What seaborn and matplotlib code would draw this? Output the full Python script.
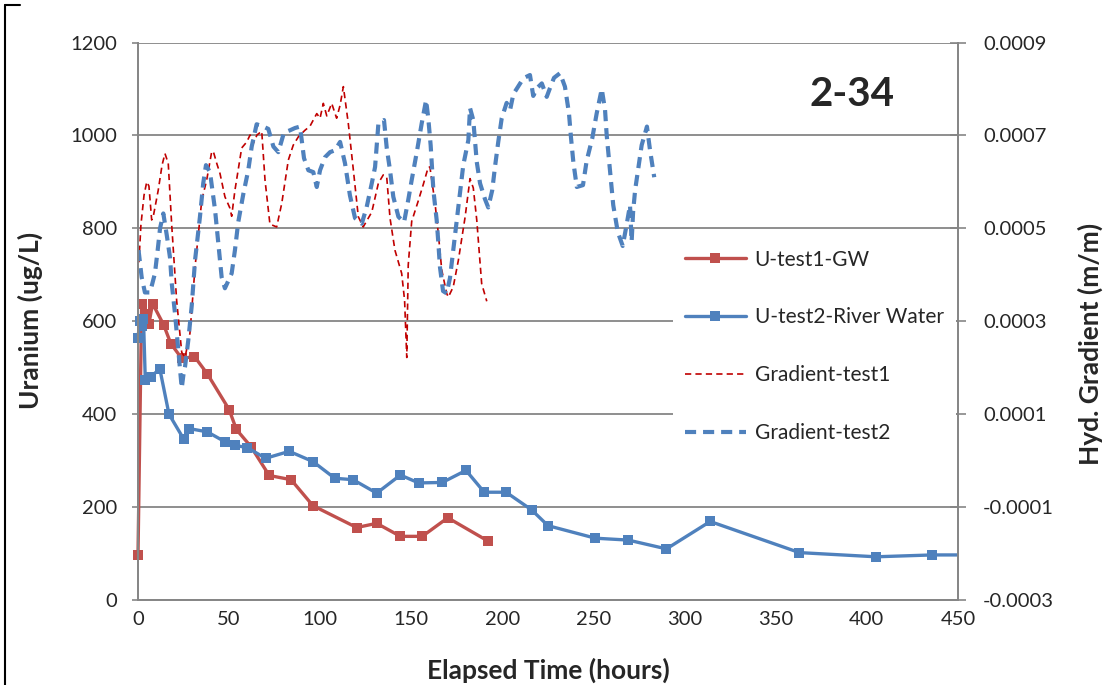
import numpy as np
import pandas as pd
import matplotlib
matplotlib.use("Agg")
import matplotlib.pyplot as plt
from matplotlib.lines import Line2D
from matplotlib.patches import Rectangle
from matplotlib.ticker import FormatStrFormatter, MultipleLocator
import seaborn as sns

# ── uranium concentration (ug/L) ──
u1_hours = [0, 2, 4, 6, 8, 14, 18, 24, 31, 38, 50, 54, 62, 72, 84, 96,
            120, 131, 144, 156, 170, 192]
u1_conc = [97, 638, 615, 595, 638, 593, 552, 520, 524, 487, 410, 367, 330,
           268, 259, 203, 156, 165, 137, 137, 177, 127]

u2_hours = [0, 1, 2, 3, 4, 7, 12, 17, 25, 28, 38, 48, 53, 60, 70, 83, 96,
            108, 118, 131, 144, 154, 167, 180, 190, 202, 216, 225, 251, 269,
            290, 314, 363, 405, 436, 480]
u2_conc = [565, 600, 590, 605, 474, 481, 497, 400, 347, 369, 362, 340, 333,
           328, 305, 320, 298, 262, 259, 230, 269, 252, 253, 279, 232, 232,
           194, 160, 133, 129, 110, 169, 102, 93, 97, 97]

# ── hydraulic gradient (x 1e-4 m/m) ──
g1_hours = [0.5, 1.6, 3.3, 4.8, 6.0, 7.5, 8.5, 11.1, 13.2, 14.8, 16.6, 18.5,
            21.2, 24.0, 25.8, 28.5, 31.3, 35.0, 37.7, 40.4, 41.3, 43.2, 45.0,
            47.7, 50.5, 51.4, 53.2, 56.9, 59.7, 61.5, 63.3, 65.3, 67.9, 69.7,
            72.4, 76.1, 78.9, 82.5, 85.2, 88.0, 91.6, 94.4, 98.1, 99.9, 101.7,
            103.6, 106.3, 109.0, 110.9, 112.7, 115.4, 118.2, 120.9, 123.6,
            128.3, 131.9, 134.6, 136.5, 138.3, 141.0, 144.7, 146.3, 147.5,
            148.3, 150.2, 153.8, 156.6, 159.3, 160.2, 163.0, 164.8, 166.7,
            169.4, 170.3, 173.0, 175.8, 179.5, 182.2, 184.0, 185.9, 188.6, 191.4]
g1_grad = [4.27, 5.07, 5.71, 6.00, 5.91, 5.18, 5.28, 5.82, 6.36, 6.61, 6.40,
           5.07, 3.45, 2.33, 2.22, 2.74, 4.16, 5.61, 6.04, 6.64, 6.66, 6.40,
           6.18, 5.68, 5.43, 5.26, 5.82, 6.73, 6.86, 7.01, 6.83, 7.01, 7.09,
           6.04, 5.09, 5.03, 5.54, 6.47, 6.79, 6.97, 7.11, 7.20, 7.47, 7.37,
           7.69, 7.42, 7.69, 7.37, 7.65, 8.05, 7.26, 6.25, 5.25, 5.03, 5.35,
           5.97, 6.15, 6.10, 5.22, 4.53, 4.03, 3.45, 2.22, 4.21, 5.15, 5.59,
           5.95, 6.32, 6.32, 5.54, 4.89, 4.10, 3.60, 3.52, 3.74, 4.31, 5.24,
           6.07, 5.87, 5.18, 3.81, 3.43]

g2_hours = [0.3, 2.0, 3.8, 6.6, 9.3, 10.8, 12.1, 13.9, 15.8, 17.6, 18.5, 20.3,
            22.1, 24.0, 24.9, 25.8, 27.6, 29.5, 31.3, 34.0, 35.8, 37.3, 39.5,
            42.3, 44.1, 45.9, 47.7, 51.4, 53.2, 55.0, 57.8, 60.5, 62.4, 65.1,
            68.8, 71.5, 74.3, 77.0, 80.1, 83.4, 86.2, 88.9, 91.1, 93.5, 96.2,
            98.1, 99.9, 102.6, 105.4, 108.1, 110.9, 113.6, 116.3, 119.1, 122.8,
            125.5, 128.3, 130.1, 131.9, 135.0, 136.5, 138.3, 140.1, 142.9,
            146.0, 148.3, 150.2, 153.0, 155.7, 158.1, 159.3, 160.6, 162.1,
            163.9, 164.8, 165.7, 167.4, 169.4, 171.2, 174.0, 175.8, 178.5,
            181.3, 182.2, 184.0, 185.9, 187.7, 190.4, 192.2, 194.4, 195.9,
            197.7, 199.6, 202.3, 204.2, 206.0, 207.8, 211.5, 215.1, 216.9,
            219.0, 221.6, 224.3, 226.1, 228.3, 231.6, 234.3, 236.5, 237.6,
            238.9, 240.8, 244.2, 246.2, 249.3, 251.7, 254.5, 256.3, 257.2,
            258.5, 259.6, 260.8, 263.3, 266.0, 268.2, 270.0, 270.9, 271.7,
            272.8, 274.6, 276.4, 279.3, 281.0, 283.3]
g2_grad = [4.53, 3.95, 3.62, 3.62, 4.03, 4.53, 5.00, 5.32, 4.85, 4.36, 3.82,
           3.17, 2.38, 1.56, 1.84, 2.02, 2.59, 3.34, 4.31, 5.25, 5.97, 6.36,
           6.21, 5.39, 4.67, 3.95, 3.71, 4.03, 4.53, 5.13, 5.74, 6.25, 6.76,
           7.24, 7.19, 7.14, 6.76, 6.64, 7.06, 7.11, 7.16, 7.19, 6.51, 6.25,
           6.21, 5.89, 6.25, 6.53, 6.64, 6.68, 6.86, 6.40, 5.71, 5.22, 5.10,
           5.46, 5.97, 6.32, 7.24, 7.33, 6.73, 6.25, 5.68, 5.25, 5.13, 5.61,
           6.04, 6.64, 7.26, 7.76, 7.37, 6.79, 5.82, 5.18, 4.70, 4.17, 3.65,
           3.60, 3.93, 4.85, 5.46, 6.36, 6.90, 7.59, 7.33, 6.43, 5.97, 5.63,
           5.45, 5.82, 6.32, 6.86, 7.37, 7.70, 7.55, 7.89, 8.00, 8.23, 8.30,
           7.85, 8.02, 8.12, 7.83, 8.02, 8.24, 8.34, 8.05, 7.48, 6.96, 6.43,
           5.89, 5.93, 6.45, 6.94, 7.47, 8.00, 7.55, 7.01, 6.47, 6.00, 5.50,
           4.92, 4.62, 5.09, 5.50, 4.72, 5.35, 5.82, 6.30, 6.79, 7.19, 6.68,
           6.10]

grad_ticks = [-0.0003, -0.0001, 0.0001, 0.0003, 0.0005, 0.0007, 0.0009]

RED = "#C0504D"
BLUE = "#4F81BD"
DARKRED = "#C00000"
GRID = "#868686"

sns.set_style("white")
plt.rcParams["font.family"] = ["Lato", "DejaVu Sans"]
plt.rcParams["lines.scale_dashes"] = False

fig = plt.figure(figsize=(11.16, 6.85), dpi=100)
ax = fig.add_axes([138 / 1116, 1 - 600 / 685, 820 / 1116, 557.5 / 685])
ax2 = ax.twinx()

sns.lineplot(x=u1_hours, y=u1_conc, ax=ax, color=RED, lw=2.4, marker="s",
             markersize=7.5, markeredgewidth=0, sort=False, estimator=None,
             legend=False)
sns.lineplot(x=u2_hours, y=u2_conc, ax=ax, color=BLUE, lw=2.4, marker="s",
             markersize=7.5, markeredgewidth=0, sort=False, estimator=None,
             legend=False)
# markers sitting on the y axis are not cut, the long tail is cut at 450 h
clip = Rectangle((-0.05, -0.05), 1.05, 1.1, transform=ax.transAxes)
for ln in ax.lines[:2]:
    ln.set_clip_path(clip)

sns.lineplot(x=g1_hours, y=np.array(g1_grad) * 1e-4, ax=ax2, color=DARKRED,
             lw=1.2, sort=False, estimator=None, legend=False)
sns.lineplot(x=g2_hours, y=np.array(g2_grad) * 1e-4, ax=ax2, color=BLUE,
             lw=3.0, sort=False, estimator=None, legend=False)
ax2.lines[0].set_dashes([4.5, 3])
ax2.lines[1].set_dashes([8, 5])

ax.set_xlim(0, 450)
ax.set_ylim(0, 1200)
ax2.set_ylim(-0.0003, 0.0009)
ax.xaxis.set_major_locator(MultipleLocator(50))
ax.yaxis.set_major_locator(MultipleLocator(200))
ax2.set_yticks(grad_ticks)
ax2.yaxis.set_major_formatter(FormatStrFormatter("%.4f"))

ax.yaxis.grid(True, color=GRID, lw=1.3)
ax.set_axisbelow(True)
for a in (ax, ax2):
    for s in a.spines.values():
        s.set_color(GRID)
        s.set_linewidth(1.3)
    a.spines["top"].set_visible(False)

ax.tick_params(axis="y", direction="out", length=4.5, width=1.2, color=GRID,
               labelsize=14.5, pad=10.5)
ax.tick_params(axis="x", direction="out", length=5.5, width=1.2, color=GRID,
               labelsize=14.5, pad=2.5)
ax2.tick_params(axis="y", direction="inout", length=12, width=1.2, color=GRID,
                labelsize=14.5, pad=12)

lab_kw = dict(fontsize=19, fontweight="bold")
ax.set_xlabel("Elapsed Time (hours)", **lab_kw)
ax.xaxis.label.set_va("center")
ax.xaxis.set_label_coords(0.5, -0.127)
ax.set_ylabel("Uranium (ug/L)", **lab_kw)
ax.yaxis.label.set_va("center")
ax.yaxis.set_label_coords(-0.1317, 0.502)
ax2.set_ylabel("Hyd. Gradient (m/m)", **lab_kw)
ax2.yaxis.label.set_va("center")
ax2.yaxis.set_label_coords(1.161, 0.459)

ax.text(0.871, 0.906, "2-34", transform=ax.transAxes, fontsize=29,
        fontweight="bold", ha="center", va="center")

handles = ax.lines[:2] + ax2.lines[:2]
labels = ["U-test1-GW", "U-test2-River Water", "Gradient-test1", "Gradient-test2"]
leg = ax2.legend(handles, labels, loc="upper left", bbox_to_anchor=(0.652, 0.651),
                 borderaxespad=0, fontsize=15, handlelength=2.9, handletextpad=0.43,
                 labelspacing=1.82, frameon=True, fancybox=False, borderpad=0.6)
leg.get_frame().set_edgecolor("none")
leg.get_frame().set_facecolor("white")
leg.get_frame().set_alpha(1)

# outer frame of the chart object
fig.add_artist(Line2D([5 / 1116, 5 / 1116], [0, 1 - 5 / 685], color="black",
                      lw=1.5, transform=fig.transFigure))
fig.add_artist(Line2D([5 / 1116, 20 / 1116], [1 - 5 / 685, 1 - 5 / 685],
                      color="black", lw=1.5, transform=fig.transFigure))

fig.savefig("out.png", dpi=100)
